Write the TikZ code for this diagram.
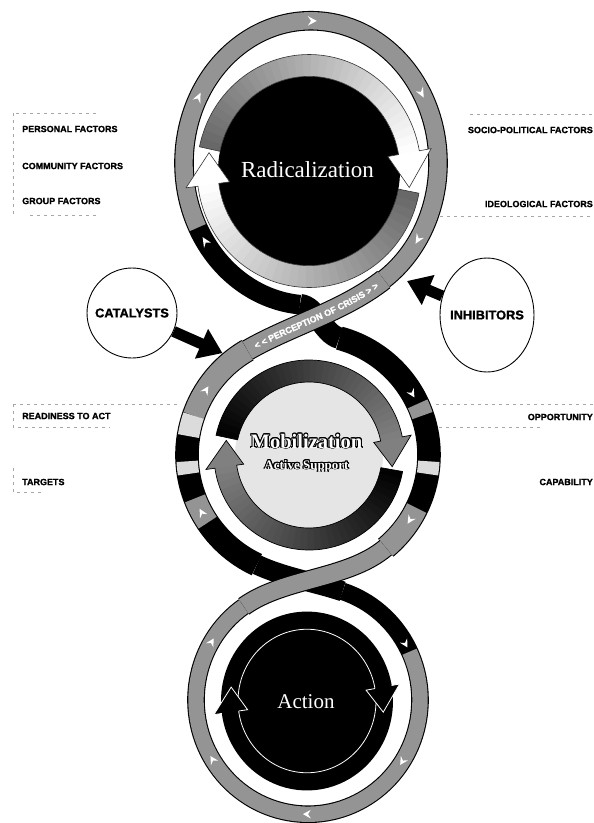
\documentclass[tikz,border=0pt]{standalone}
\usepackage{fontspec}
\setmainfont{Liberation Serif}
\newfontfamily\labfont{Liberation Sans}[BoldFeatures={FakeBold=1.3}]
\usepackage{contour}
\contourlength{0.9pt}
\usetikzlibrary{calc,decorations.text,arrows.meta,shapes.geometric}

% cyclic arrow: #1 tail angle, #2 head base angle, #3 tip angle, #4 r inner, #5 r outer,
% #6 head inner radius, #7 head outer radius, #8 shade at tail, #9 shade at head
\newcommand\cyclearrow[9]{%
  \foreach \i in {0,...,35}{%
    \pgfmathsetmacro\sa{(#1)-((#1)-(#2))*\i/36}%
    \pgfmathsetmacro\sb{(#1)-((#1)-(#2))*(\i+1)/36-0.5}%
    \pgfmathsetmacro\sh{(#8)+((#9)-(#8))*(\i+0.5)/36}%
    \fill[black!\sh] (\sa:#4) arc[start angle=\sa,end angle=\sb,radius=#4]
      -- (\sb:#5) arc[start angle=\sb,end angle=\sa,radius=#5] -- cycle;
  }%
  \fill[black!#9] (#2:#6) -- (#3:{(#4+#5)/2}) -- (#2:#7) -- cycle;
  \draw[arrowline] (#1:#5) arc[start angle=#1,end angle=#2,radius=#5] -- (#2:#7)
    -- (#3:{(#4+#5)/2}) -- (#2:#6) -- (#2:#4) arc[start angle=#2,end angle=#1,radius=#4] -- cycle;
}
% chevron on a ring: #1 angle, #2 radius
\newcommand\chev[2]{%
  \fill[white] ({#1-2.6}:#2) -- ({#1+1.4}:{#2+4.2}) -- ({#1}:#2) -- ({#1+1.4}:{#2-4.2}) -- cycle;}

\begin{document}
\begin{tikzpicture}[x=1pt,y=1pt,
  ringgrey/.style={black!42},
  ringlight/.style={black!14},
  guide/.style={black!35, line width=0.6pt, dash pattern=on 2.5pt off 4.5pt},
  sidelabel/.style={font=\labfont\bfseries\fontsize{9}{9}\selectfont, inner sep=0pt},
  bubble/.style={draw, line width=0.9pt, fill=white},
  bubbletext/.style={font=\labfont\bfseries\fontsize{12.8}{13}\selectfont, inner sep=0pt},
  bigarrow/.style={black, line width=11pt, -{Triangle[length=23pt,width=31pt]}},
  arrowline/.style={black!80, line width=0.6pt}
]
\useasboundingbox (0,0) rectangle (594,-823);
\fill[white] (0,0) rectangle (594,-823);

% ---------- faint guide lines of the label boxes ----------
\draw[guide] (13,-113) -- (13,-216);
\draw[guide] (16,-113) -- (100,-113);
\draw[guide] (30,-215) -- (100,-215);
\draw[guide] (470,-114) -- (594,-114);
\draw[guide] (440,-216) -- (594,-216);
\draw[guide] (13,-404) -- (180,-404);
\draw[guide] (436,-404) -- (594,-404);
\draw[guide] (13,-404) -- (13,-427) -- (110,-427);
\draw[guide] (432,-427) -- (540,-427);
\draw[guide] (13,-468) -- (13,-492) -- (45,-492);

% ---------- outer rings ----------
% ring A (Radicalization)
\begin{scope}[shift={(311,-163)}, yscale=1.12]
  \draw[line width=19.6pt] (-55:127) arc[start angle=-55,end angle=265,radius=127];
  \draw[line width=17.4pt, ringgrey] (-55:127) arc[start angle=-55,end angle=207,radius=127];
  \foreach \t in {90,153,30,-32} {\chev{\t}{127}}
  \chev{214}{127}
  \coordinate (Ag) at (-55:127);
  \coordinate (Agc) at ({-55-atan(50/127)}:{veclen(127,50)});
  \coordinate (Ak) at (265:127);
  \coordinate (Akc) at ({265+atan(17/127)}:{veclen(127,17)});
\end{scope}

% ring B (Mobilization)
\begin{scope}[shift={(308,-455)}]
  \draw[line width=23.6pt] (120:121) arc[start angle=120,end angle=245,radius=121];
  \draw[line width=23.6pt] (-50:121) arc[start angle=-50,end angle=75,radius=121];
  \foreach \s/\e/\c in {120/161/ringgrey,161/171/ringlight,183/189/ringlight,201/214/ringgrey,
                        19/25/ringgrey,-9/-3/ringlight,-50/-26/ringgrey}
    {\draw[line width=21.4pt, \c] (\s:121) arc[start angle=\s,end angle=\e,radius=121];}
  \foreach \t in {148,209,31,-32} {\chev{\t}{121}}
  \coordinate (Bg) at (120:121);
  \coordinate (Bgc) at ({120-atan(50/121)}:{veclen(121,50)});
  \coordinate (Bk) at (75:121);
  \coordinate (Bkc) at ({75+atan(17/121)}:{veclen(121,17)});
  \coordinate (Bk2) at (245:121);
  \coordinate (Bk2c) at ({245+atan(30/121)}:{veclen(121,30)});
  \coordinate (Bg2) at (-50:121);
  \coordinate (Bg2c) at ({-50-atan(50/121)}:{veclen(121,50)});
  \coordinate (catTip) at (130:133);
\end{scope}

% ring C (Action)
\begin{scope}[shift={(308,-700)}, yscale=1.02]
  \draw[line width=17.6pt] (125:112) arc[start angle=125,end angle=432,radius=112];
  \draw[line width=15.4pt, ringgrey] (125:112) arc[start angle=125,end angle=385,radius=112];
  \foreach \t in {150,30,212,-32,270} {\chev{\t}{112}}
  \coordinate (Ck) at (72:112);
  \coordinate (Ckc) at ({72+atan(30/112)}:{veclen(112,30)});
  \coordinate (Cg) at (125:112);
  \coordinate (Cgc) at ({125-atan(50/112)}:{veclen(112,50)});
\end{scope}

% ---------- crossings between the rings ----------
\draw[line width=21.6pt] (Ak) .. controls (Akc) and (Bkc) .. (Bk);
\draw[line width=20pt] (Bk2) .. controls (Bk2c) and (Ckc) .. (Ck);
\draw[line width=21.6pt] (Ag) .. controls (Agc) and (Bgc) .. (Bg);
\draw[line width=19.4pt, ringgrey] (Ag) .. controls (Agc) and (Bgc) .. (Bg);
\path[decorate, decoration={text along path, text align=center, raise=-3.3pt,
  text={|\labfont\bfseries\fontsize{9}{9}\selectfont\color{white}|< < PERCEPTION OF CRISIS > >}}]
  (Bg) .. controls (Bgc) and (Agc) .. (Ag);
\draw[line width=19.6pt] (Bg2) .. controls (Bg2c) and (Cgc) .. (Cg);
\draw[line width=17.4pt, ringgrey] (Bg2) .. controls (Bg2c) and (Cgc) .. (Cg);
\coordinate (inhTip) at (407,-281);

% ---------- Radicalization core ----------
\begin{scope}[shift={(309,-171)}, yscale=1.04]
  \fill[black] (0,0) circle[radius=91];
  \cyclearrow{168}{10}{-9}{91}{112}{80}{124}{60}{0}
  \cyclearrow{-11}{-172.5}{-190}{91}{112}{80}{124}{60}{0}
\end{scope}
\node[text=white, font=\fontsize{23}{23}\selectfont, anchor=base, inner sep=0pt] (rad) at (307.5,-177) {Radicalization};

% ---------- Mobilization core ----------
\begin{scope}[shift={(309,-455)}, arrowline/.style={black, line width=0.7pt}]
  \fill[black!10] (0,0) circle[radius=74];
  \cyclearrow{168}{11}{-8}{73}{95}{66}{104}{100}{50}
  \cyclearrow{-10}{-172}{-190}{73}{95}{66}{104}{100}{50}
\end{scope}
\node[anchor=base, inner sep=0pt, font=\bfseries\fontsize{20.5}{21}\selectfont] (mob) at (306.5,-448)
  {\contour{black}{\textcolor{white}{Mobilization}}};
\node[anchor=base, inner sep=0pt, font=\bfseries\fontsize{13}{13}\selectfont] (act) at (306.5,-469)
  {\contour{black}{\textcolor{white}{Active Support}}};

% ---------- Action core ----------
\begin{scope}[shift={(307,-701)}, yscale=1.04]
  \fill[black] (0,0) circle[radius=86];
  \draw[white, line width=0.8pt] (0,0) circle[radius=69];
  \foreach \b/\c in {10/-8, -172/-190} {
    \fill[black] (\b:60) -- (\c:77) -- (\b:94) -- cycle;
    \draw[white, line width=0.8pt] (\b:69) -- (\b:60) -- (\c:77) -- (\b:94) -- (\b:86);
  }
\end{scope}
\node[text=white, font=\fontsize{21}{21}\selectfont, anchor=base, inner sep=0pt] (actn) at (306,-708) {Action};

% ---------- catalysts / inhibitors ----------
\node[bubble, circle, minimum size=90pt] (cat) at (132,-313) {};
\node[bubbletext] (catl) at (cat) {CATALYSTS};
\node[bubble, ellipse, minimum width=94pt, minimum height=114pt] (inh) at (487,-315) {};
\node[bubbletext] (inhl) at (inh) {INHIBITORS};
\draw[bigarrow] (cat) -- (catTip);
\draw[bigarrow] (inh) -- (inhTip);

% ---------- side labels ----------
\node[sidelabel, anchor=west] (l1) at (22,-129) {PERSONAL FACTORS};
\node[sidelabel, anchor=west] (l2) at (22,-166) {COMMUNITY FACTORS};
\node[sidelabel, anchor=west] (l3) at (22,-201) {GROUP FACTORS};
\node[sidelabel, anchor=east] (r1) at (593,-130) {SOCIO-POLITICAL FACTORS};
\node[sidelabel, anchor=east] (r2) at (593,-204) {IDEOLOGICAL FACTORS};
\node[sidelabel, anchor=west] (l4) at (22,-416) {READINESS TO ACT};
\node[sidelabel, anchor=west] (l5) at (22,-482) {TARGETS};
\node[sidelabel, anchor=east] (r3) at (593,-417) {OPPORTUNITY};
\node[sidelabel, anchor=east] (r4) at (593,-482) {CAPABILITY};
\end{tikzpicture}
\end{document}
